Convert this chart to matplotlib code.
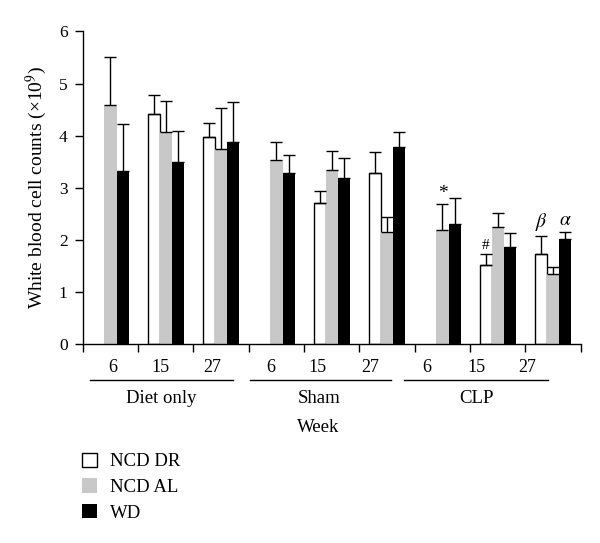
import numpy as np
import matplotlib.pyplot as plt
import matplotlib.patches as mpatches
import matplotlib.transforms as mtransforms

plt.rcParams['font.family'] = ['Liberation Serif', 'DejaVu Serif']
plt.rcParams['mathtext.fontset'] = 'stix'

# 9 slots: Diet only (6,15,27), Sham (6,15,27), CLP (6,15,27)
weeks = ['6', '15', '27', '6', '15', '27', '6', '15', '27']
groups = ['Diet only', 'Sham', 'CLP']
series = ['NCD DR', 'NCD AL', 'WD']

dr_mean = [np.nan, 4.42, 3.98, np.nan, 2.70, 3.29, np.nan, 1.51, 1.73]
dr_err = [np.nan, 0.36, 0.27, np.nan, 0.24, 0.40, np.nan, 0.21, 0.34]
al_mean = [4.59, 4.07, 3.75, 3.53, 3.33, 2.14, 2.18, 2.24, 1.34]
al_err = [0.92, 0.60, 0.78, 0.34, 0.38, 0.29, 0.50, 0.27, 0.14]
wd_mean = [3.31, 3.49, 3.87, 3.28, 3.19, 3.78, 2.31, 1.85, 2.02]
wd_err = [0.91, 0.59, 0.78, 0.34, 0.38, 0.29, 0.49, 0.28, 0.13]

# significance marks: (slot, series index, symbol)
marks = [(6, 1, '*'), (7, 0, '#'), (8, 0, r'$\beta$'), (8, 2, r'$\alpha$')]

fig = plt.figure(figsize=(6, 5.43), dpi=100)
ax = fig.add_axes([0.138, 0.367, 0.83, 0.575])

x = np.arange(9) + 0.5
w = 0.22
colors = ['white', '#c8c8c8', 'black']
means = [dr_mean, al_mean, wd_mean]
errs = [dr_err, al_err, wd_err]
for i in range(3):
    xi = x + (i - 1) * w
    m = np.array(means[i])
    e = np.array(errs[i])
    if i == 0:
        ax.bar(xi, m, w, color=colors[i], edgecolor='black', linewidth=1, zorder=2)
    else:
        ax.bar(xi, m, w, color=colors[i], edgecolor='none', zorder=2)
    ax.errorbar(xi, m, yerr=[np.zeros(9), e], fmt='none', ecolor='black',
                elinewidth=1, capsize=4.5, capthick=1, zorder=3)

for slot, si, sym in marks:
    top = means[si][slot] + errs[si][slot]
    ax.text(x[slot] + (si - 1) * w, top + 0.05, sym, ha='center', va='bottom',
            fontsize=14 if sym != '#' else 11)

ax.set_xlim(0, 9)
ax.set_ylim(0, 6)
ax.set_xticks(np.arange(10))
ax.set_xticklabels([])
ax.set_yticks(range(7))
ax.tick_params(axis='both', direction='out', length=6, width=1, labelsize=12.5, colors='black')
ax.tick_params(axis='y', pad=5)
for s in ['top', 'right']:
    ax.spines[s].set_visible(False)
for s in ['left', 'bottom']:
    ax.spines[s].set_linewidth(1)
ax.set_ylabel('White blood cell counts (×10$^{9}$)', fontsize=14, labelpad=7)

trans = mtransforms.blended_transform_factory(ax.transData, ax.transAxes)
week_pos = [0.55, 1.40, 2.33, 3.39, 4.25, 5.20, 6.22, 7.11, 8.03]
for p, lab in zip(week_pos, weeks):
    ax.text(p, -0.075, lab, transform=trans, ha='center', va='center', fontsize=13)
line_spans = [(0.13, 2.71), (3.03, 5.57), (5.81, 8.41)]
group_pos = [1.42, 4.27, 7.12]
for (a, b), gp, g in zip(line_spans, group_pos, groups):
    ax.plot([a, b], [-0.117, -0.117], transform=trans, color='black', lw=1, clip_on=False)
    ax.text(gp, -0.175, g, transform=trans, ha='center', va='center', fontsize=13.5)
ax.text(4.26, -0.267, 'Week', transform=trans, ha='center', va='center', fontsize=13.5)

handles = [mpatches.Patch(facecolor=colors[0], edgecolor='black', linewidth=1),
           mpatches.Patch(facecolor=colors[1], edgecolor='none'),
           mpatches.Patch(facecolor=colors[2], edgecolor='none')]
fig.legend(handles, series, loc='upper left', bbox_to_anchor=(0.124, 0.18),
           frameon=False, fontsize=13.5, handlelength=0.8, handleheight=0.8,
           handletextpad=0.7, labelspacing=0.42, borderaxespad=0)

fig.savefig('out.png', dpi=100)
